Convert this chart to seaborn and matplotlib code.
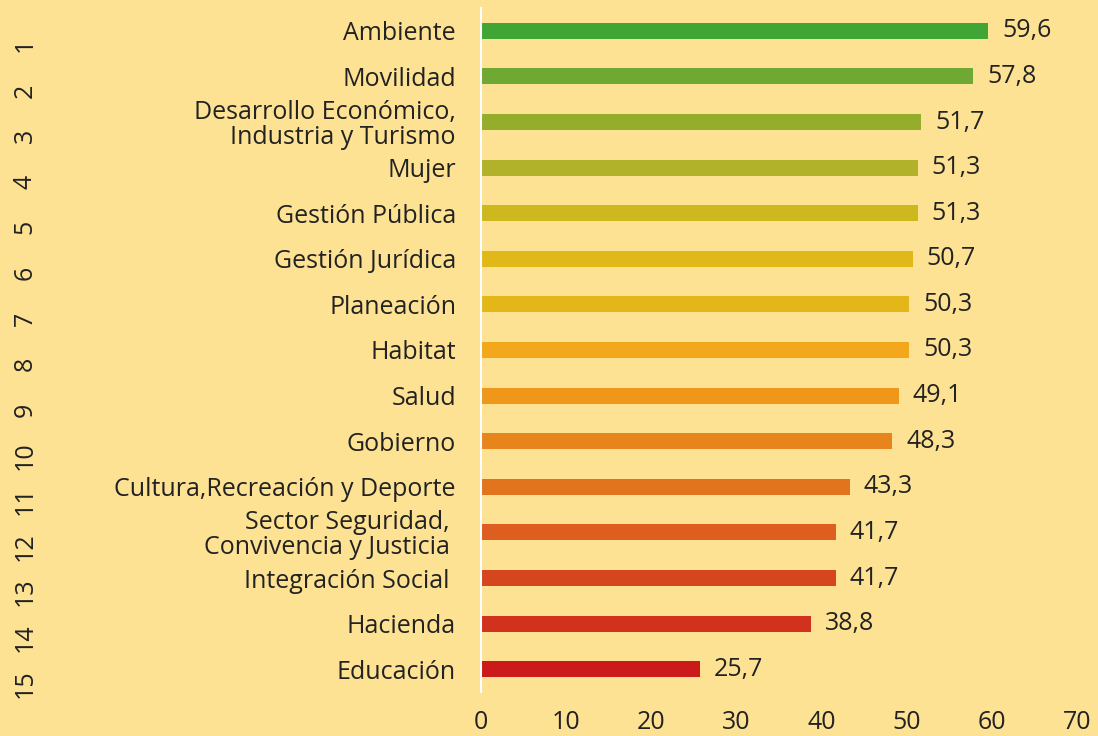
import matplotlib
matplotlib.use("Agg")
import matplotlib.pyplot as plt
import matplotlib.transforms as mtransforms
import seaborn as sns
import pandas as pd

categories = [
    "Ambiente",
    "Movilidad",
    "Desarrollo Económico,\nIndustria y Turismo",
    "Mujer",
    "Gestión Pública",
    "Gestión Jurídica",
    "Planeación",
    "Habitat",
    "Salud",
    "Gobierno",
    "Cultura,Recreación y Deporte",
    "Sector Seguridad, \nConvivencia y Justicia ",
    "Integración Social ",
    "Hacienda",
    "Educación",
]
values = [59.6, 57.8, 51.7, 51.3, 51.3, 50.7, 50.3, 50.3, 49.1, 48.3, 43.3, 41.7, 41.7, 38.8, 25.7]
ranks = [str(i) for i in range(1, 16)]
colors = ["#41A535", "#6FA832", "#94AE2B", "#B2B22A", "#CDB91E", "#E0B81A", "#E3B71A",
          "#F2A81A", "#EE971A", "#E7841C", "#E2741E", "#DD5E1E", "#D6461E", "#D0321D", "#CC1A1A"]
xticks = [0, 10, 20, 30, 40, 50, 60, 70]

bg = "#FEE293"
txt = "#222222"
sns.set_theme(style="white")
plt.rcParams["font.family"] = ["Open Sans", "DejaVu Sans"]

fig = plt.figure(figsize=(10.98, 7.36), dpi=100, facecolor=bg)
ax = fig.add_axes([481 / 1098, 1 - 692 / 736, (1077 - 481) / 1098, (692 - 8) / 736])
ax.set_facecolor(bg)

df = pd.DataFrame({"cat": categories, "val": values})
sns.barplot(data=df, y="cat", x="val", hue="cat", palette=colors, orient="h",
            width=0.35, legend=False, ax=ax, saturation=1, linewidth=0)

ax.set_xlim(0, 70)
ax.set_ylim(14.5, -0.5)
ax.set_xticks(xticks)
ax.set_xticklabels([str(t) for t in xticks])
ax.set_xlabel("")
ax.set_ylabel("")
for s in ["top", "right", "bottom"]:
    ax.spines[s].set_visible(False)
ax.spines["left"].set_color("white")
ax.spines["left"].set_linewidth(1.5)
ax.tick_params(axis="x", length=0, pad=13, labelsize=18, labelcolor=txt)
ax.tick_params(axis="y", length=0, pad=18, labelsize=18, labelcolor=txt)
for lab in ax.get_yticklabels():
    lab.set_horizontalalignment("right")
    lab.set_multialignment("right")
    lab.set_linespacing(1.0)

for i, v in enumerate(values):
    ax.annotate(f"{v:.1f}".replace(".", ","), xy=(v, i), xytext=(10, 0),
                textcoords="offset points", va="center", ha="left",
                fontsize=18, color=txt)

trans = mtransforms.blended_transform_factory(fig.transFigure, ax.transData)
off = mtransforms.ScaledTranslation(0, -14 / 100, fig.dpi_scale_trans)
for i, r in enumerate(ranks):
    ax.text(25 / 1098, i, r, transform=trans + off, rotation=90, ha="center",
            va="center", fontsize=18, color=txt)

fig.savefig("out.png", dpi=100, facecolor=bg)
